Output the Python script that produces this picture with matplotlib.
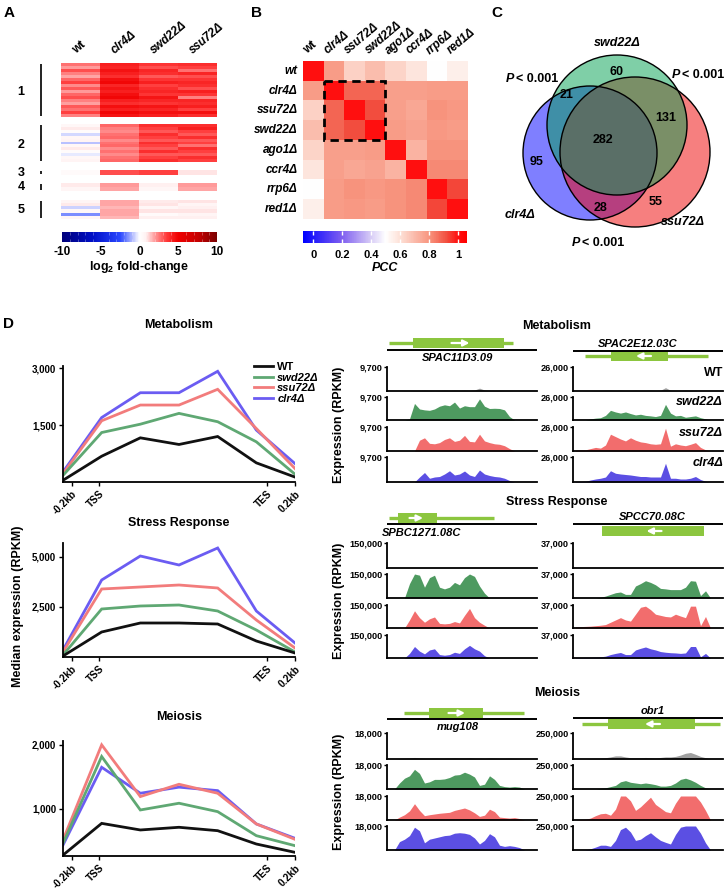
import numpy as np
import matplotlib
matplotlib.use("Agg")
import matplotlib.pyplot as plt
from matplotlib.colors import LinearSegmentedColormap, Normalize
from matplotlib.patches import Rectangle, Circle
from matplotlib.lines import Line2D
import matplotlib.cm as cm

plt.rcParams["font.family"] = ["Liberation Sans", "DejaVu Sans"]
plt.rcParams["font.weight"] = "bold"
plt.rcParams["mathtext.fontset"] = "custom"
plt.rcParams["mathtext.rm"] = "Liberation Sans:bold"
plt.rcParams["mathtext.it"] = "Liberation Sans:bold:italic"
plt.rcParams["mathtext.bf"] = "Liberation Sans:bold"

# ---------------- A : log2 fold-change clusters ----------------
a_cols = ["wt", "clr4Δ", "swd22Δ", "ssu72Δ"]
a_cluster_names = ["1", "2", "3", "4", "5"]
a_c1 = [[2.6, 4.2, 3.6, 3.8], [2.0, 4.0, 3.2, 3.4], [3.2, 4.5, 4.0, 2.6],
        [2.4, 4.2, 3.8, 4.0], [1.8, 3.8, 3.0, 3.2], [2.8, 4.6, 3.6, 3.6],
        [3.4, 4.8, 4.2, 4.0], [2.2, 4.0, 3.4, 3.8], [3.0, 4.4, 3.8, 3.2],
        [2.0, 4.2, 4.0, 4.2], [2.8, 4.6, 3.6, 3.6], [3.2, 4.8, 4.4, 2.4],
        [2.4, 4.2, 4.0, 4.0], [1.9, 3.8, 3.6, 3.8], [3.0, 4.6, 4.4, 4.2],
        [2.6, 4.2, 4.0, 3.4], [3.4, 4.8, 4.6, 4.6], [2.4, 4.4, 4.2, 3.8]]
a_c2 = [[0.4, 2.8, 3.8, 3.8], [0.9, 2.4, 3.4, 4.2], [0.2, 2.2, 3.0, 3.4],
        [-0.5, 2.6, 3.8, 3.0], [0.5, 2.8, 3.4, 3.8], [0.7, 2.2, 3.0, 3.0],
        [-0.8, 2.6, 3.8, 3.4], [0.4, 2.8, 3.4, 2.6], [0.9, 2.2, 3.0, 3.8],
        [0.2, 2.6, 3.8, 3.4], [-0.3, 2.2, 3.0, 3.0], [0.4, 2.6, 3.4, 3.8],
        [0.7, 2.8, 3.8, 3.4]]
a_c3 = [[0.3, 3.2, 3.4, 1.0]]
a_c4 = [[0.9, 2.0, 0.8, 2.0], [0.6, 1.8, 0.5, 1.8]]
a_c5 = [[0.6, 1.8, 0.9, 1.0], [0.9, 1.8, 1.0, 0.6], [-0.6, 1.6, 0.5, 0.8],
        [0.4, 1.8, 1.0, 1.0], [-1.5, 1.8, 0.3, 0.6], [0.6, 1.6, 0.8, 0.8]]
a_ticks = [-10, -5, 0, 5, 10]

# ---------------- B : PCC matrix ----------------
b_labels = ["wt", "clr4Δ", "ssu72Δ", "swd22Δ", "ago1Δ", "ccr4Δ", "rrp6Δ", "red1Δ"]
b_pcc = [[1.00, 0.78, 0.64, 0.69, 0.63, 0.58, 0.50, 0.55],
         [0.78, 1.00, 0.88, 0.88, 0.77, 0.77, 0.78, 0.78],
         [0.64, 0.88, 1.00, 0.92, 0.77, 0.75, 0.80, 0.79],
         [0.69, 0.88, 0.92, 1.00, 0.78, 0.76, 0.79, 0.78],
         [0.63, 0.77, 0.77, 0.78, 1.00, 0.72, 0.80, 0.80],
         [0.58, 0.77, 0.75, 0.76, 0.72, 1.00, 0.82, 0.82],
         [0.50, 0.78, 0.80, 0.79, 0.80, 0.82, 1.00, 0.93],
         [0.55, 0.78, 0.79, 0.78, 0.80, 0.82, 0.93, 1.00]]
b_ticks = [0, 0.2, 0.4, 0.6, 0.8, 1.0]
b_ticklabels = ["0", "0.2", "0.4", "0.6", "0.8", "1"]

# ---------------- C : Venn ----------------
venn_names = ["clr4Δ", "swd22Δ", "ssu72Δ"]
venn_counts = [95, 60, 55, 21, 28, 131, 282]   # clr4, swd22, ssu72, c&w, c&s, w&s, all

# ---------------- D : metagene profiles ----------------
d_groups = ["Metabolism", "Stress Response", "Meiosis"]
d_strains = ["WT", "swd22Δ", "ssu72Δ", "clr4Δ"]
d_xlabels = ["-0.2kb", "TSS", "TES", "0.2kb"]
met_wt = [45, 680, 1165, 990, 1200, 505, 130]
met_swd22 = [175, 1305, 1525, 1810, 1590, 1060, 205]
met_ssu72 = [220, 1615, 2030, 2030, 2445, 1410, 355]
met_clr4 = [265, 1700, 2355, 2355, 2920, 1370, 485]
str_wt = [50, 1250, 1700, 1700, 1650, 800, 200]
str_swd22 = [100, 2400, 2550, 2600, 2300, 1350, 250]
str_ssu72 = [250, 3400, 3500, 3600, 3450, 1850, 450]
str_clr4 = [350, 3850, 5050, 4600, 5450, 2300, 700]
mei_wt = [280, 775, 672, 714, 661, 453, 323]
mei_swd22 = [464, 1818, 984, 1089, 958, 583, 427]
mei_ssu72 = [516, 2000, 1193, 1385, 1245, 766, 526]
mei_clr4 = [437, 1650, 1245, 1340, 1286, 766, 542]

# ---------------- D : browser tracks (percent of track maximum, 30 bins) ----------------
track_max = [[9700, 26000], [150000, 37000], [18000, 250000]]
genes = [["SPAC11D3.09", "SPAC2E12.03C"], ["SPBC1271.08C", "SPCC70.08C"], ["mug108", "obr1"]]
# thin span, box span, arrow (tail, head), name x
gene_thin = [[(0.01, 0.84), (0.08, 0.90)], [(0.01, 0.71), None], [(0.11, 0.91), (0.06, 0.98)]]
gene_box = [[(0.17, 0.78), (0.25, 0.63)], [(0.07, 0.33), (0.19, 0.87)], [(0.28, 0.64), (0.23, 0.81)]]
gene_arrow = [[(0.43, 0.55), (0.52, 0.42)], [(0.15, 0.24), (0.59, 0.49)], [(0.41, 0.52), (0.58, 0.48)]]
gene_name_x = [[0.47, 0.43], [0.23, 0.53], [0.47, 0.53]]

spac11_wt = [0, 0, 0, 1, 1, 2, 2, 3, 2, 1, 2, 3, 2, 3, 2, 3, 2, 4, 12, 4, 2, 2, 2, 1, 1, 0, 0, 0, 0, 0]
spac11_swd22 = [0, 0, 0, 0, 5, 72, 48, 44, 42, 48, 60, 66, 62, 78, 52, 62, 58, 58, 92, 60, 50, 51, 50, 44, 15, 0, 0, 0, 0, 0]
spac11_ssu72 = [0, 0, 0, 0, 0, 0, 45, 55, 32, 30, 35, 48, 55, 40, 45, 65, 40, 38, 70, 42, 35, 30, 28, 22, 10, 0, 0, 0, 0, 0]
spac11_clr4 = [0, 0, 0, 0, 0, 0, 20, 38, 15, 20, 22, 32, 45, 28, 32, 44, 28, 22, 48, 32, 26, 22, 20, 15, 6, 0, 0, 0, 0, 0]
spac2e_wt = [0, 0, 1, 1, 2, 2, 3, 3, 2, 3, 2, 2, 3, 2, 2, 3, 2, 3, 14, 3, 2, 2, 3, 2, 1, 0, 0, 0, 0, 0]
spac2e_swd22 = [0, 0, 0, 5, 8, 10, 20, 42, 35, 30, 35, 28, 22, 25, 20, 18, 15, 20, 68, 30, 18, 20, 12, 15, 18, 10, 5, 0, 0, 0]
spac2e_ssu72 = [3, 5, 5, 10, 15, 12, 25, 70, 60, 50, 42, 55, 45, 38, 35, 30, 28, 30, 95, 20, 30, 25, 22, 28, 35, 15, 5, 0, 0, 0]
spac2e_clr4 = [2, 2, 3, 8, 12, 15, 20, 45, 35, 32, 30, 28, 25, 22, 22, 20, 20, 20, 75, 15, 15, 12, 12, 15, 22, 10, 3, 0, 0, 0]
spbc_wt = [0] * 30
spbc_swd22 = [0, 0, 0, 0, 60, 100, 95, 45, 85, 95, 45, 38, 45, 65, 55, 85, 100, 90, 50, 20, 0, 0, 0, 0, 0, 0, 0, 0, 0, 0]
spbc_ssu72 = [0, 0, 0, 0, 35, 75, 45, 25, 40, 48, 20, 18, 20, 28, 22, 55, 85, 45, 25, 12, 0, 0, 0, 0, 0, 0, 0, 0, 0, 0]
spbc_clr4 = [0, 0, 0, 0, 20, 50, 30, 18, 35, 40, 15, 12, 15, 25, 20, 40, 55, 40, 30, 10, 0, 0, 0, 0, 0, 0, 0, 0, 0, 0]
spcc_wt = [0] * 30
spcc_swd22 = [0, 0, 0, 0, 0, 3, 8, 15, 22, 25, 15, 15, 50, 60, 72, 65, 55, 40, 38, 35, 35, 35, 45, 72, 70, 10, 30, 0, 0, 0]
spcc_ssu72 = [5, 6, 7, 8, 10, 12, 15, 25, 35, 45, 35, 30, 60, 90, 95, 80, 60, 55, 50, 48, 60, 52, 45, 95, 95, 10, 50, 0, 0, 0]
spcc_clr4 = [2, 2, 3, 3, 4, 5, 8, 15, 20, 24, 15, 15, 35, 42, 48, 40, 35, 28, 25, 23, 22, 20, 22, 50, 50, 5, 20, 0, 0, 0]
mug_wt = [0, 0, 2, 3, 4, 6, 4, 3, 3, 4, 3, 3, 4, 5, 4, 4, 5, 3, 3, 2, 4, 3, 2, 2, 3, 2, 1, 0, 0, 0]
mug_swd22 = [0, 0, 25, 45, 55, 82, 65, 25, 30, 40, 40, 42, 48, 58, 60, 70, 62, 50, 15, 20, 55, 40, 15, 10, 8, 10, 8, 0, 0, 0]
mug_ssu72 = [0, 0, 12, 22, 38, 68, 40, 18, 22, 25, 28, 30, 32, 40, 45, 50, 42, 30, 15, 20, 45, 35, 12, 10, 8, 10, 6, 0, 0, 0]
mug_clr4 = [0, 0, 35, 45, 60, 95, 80, 30, 45, 50, 55, 60, 62, 70, 72, 70, 65, 50, 25, 40, 68, 55, 20, 15, 18, 15, 10, 0, 0, 0]
obr1_wt = [0, 0, 0, 2, 3, 3, 5, 8, 12, 12, 8, 5, 5, 5, 6, 5, 4, 6, 8, 8, 10, 15, 22, 25, 18, 10, 5, 0, 0, 0]
obr1_swd22 = [0, 0, 0, 0, 0, 3, 5, 10, 15, 30, 35, 28, 25, 22, 25, 22, 18, 12, 12, 15, 25, 40, 45, 38, 28, 15, 5, 0, 0, 0]
obr1_ssu72 = [0, 2, 3, 8, 18, 26, 28, 20, 45, 100, 100, 80, 40, 55, 75, 95, 65, 50, 35, 30, 70, 100, 100, 100, 100, 75, 40, 0, 0, 0]
obr1_clr4 = [0, 0, 1, 5, 12, 20, 20, 15, 40, 85, 95, 75, 40, 45, 60, 72, 55, 40, 32, 25, 65, 95, 100, 100, 100, 70, 30, 0, 0, 0]

tracks = [[[spac11_wt, spac11_swd22, spac11_ssu72, spac11_clr4],
           [spac2e_wt, spac2e_swd22, spac2e_ssu72, spac2e_clr4]],
          [[spbc_wt, spbc_swd22, spbc_ssu72, spbc_clr4],
           [spcc_wt, spcc_swd22, spcc_ssu72, spcc_clr4]],
          [[mug_wt, mug_swd22, mug_ssu72, mug_clr4],
           [obr1_wt, obr1_swd22, obr1_ssu72, obr1_clr4]]]

line_colors = ["#111111", "#5fa873", "#f27c7c", "#6b5cf2"]
fill_colors = ["#a0a0a0", "#4e9a60", "#f26d6d", "#5b4fe3"]
GENE_GREEN = "#8cc63f"

W, H = 728, 893
fig = plt.figure(figsize=(W / 100, H / 100), dpi=100)


def px_axes(x0, y0, x1, y1, **kw):
    return fig.add_axes([x0 / W, 1 - y1 / H, (x1 - x0) / W, (y1 - y0) / H], **kw)


ov = px_axes(0, 0, W, H, zorder=5)
ov.set_xlim(0, W)
ov.set_ylim(H, 0)
ov.axis("off")

for lab, (x, y) in zip("ABCD", [(9, 13), (257, 13), (497, 13), (9, 324)]):
    ov.text(x, y, lab, fontsize=11, ha="center", va="center")

# ---------------- A ----------------
cmap_a = LinearSegmentedColormap.from_list("a", [
    (0.0, "#00007a"), (0.2, "#0010c8"), (0.375, "#2a48ff"), (0.45, "#aab4ff"),
    (0.5, "#ffffff"), (0.54, "#fff2f2"), (0.6, "#ff9a9a"), (0.675, "#ff3a3a"),
    (0.75, "#f00000"), (0.875, "#c80000"), (1.0, "#7a0000")])
a_norm = Normalize(-10, 10)
a_extent = [(63, 117), (124, 162), (170, 175), (183, 191), (200, 219)]
for rows, name, (y0, y1) in zip([a_c1, a_c2, a_c3, a_c4, a_c5], a_cluster_names, a_extent):
    ax = px_axes(61, y0, 217, y1)
    ax.imshow(np.array(rows), cmap=cmap_a, norm=a_norm, aspect="auto", interpolation="nearest")
    ax.axis("off")
    ov.plot([41, 41], [y0 + 1, y1 - 1], color="#222222", lw=1.4, solid_capstyle="butt")
ov.text(21, 92, "1", fontsize=9, ha="center", va="center")
ov.text(21, 145, "2", fontsize=9, ha="center", va="center")
ov.text(21, 173, "3", fontsize=9, ha="center", va="center")
ov.text(21, 187, "4", fontsize=9, ha="center", va="center")
ov.text(21, 210, "5", fontsize=9, ha="center", va="center")
for i, lab in enumerate(a_cols):
    ov.text(61 + 39 * i + 16.5, 56, lab, rotation=40, rotation_mode="anchor",
            ha="left", va="bottom", fontsize=8.5,
            style="normal" if lab == "wt" else "italic")

cax = px_axes(62, 232, 217, 242)
cb = fig.colorbar(cm.ScalarMappable(norm=a_norm, cmap=cmap_a), cax=cax, orientation="horizontal")
cb.outline.set_visible(False)
cb.set_ticks(a_ticks)
cb.set_ticklabels([str(t) for t in a_ticks])
cax.tick_params(length=0, pad=3, labelsize=8.5)
cax.set_xticks(np.arange(-9, 10), minor=True)
cax.tick_params(which="minor", direction="in", length=2, color=(1, 1, 1, 0.35), top=True)
ov.text(139, 267, r"log$_2$ fold-change", fontsize=9, ha="center", va="center")

# ---------------- B ----------------
cmap_b = LinearSegmentedColormap.from_list("b", [
    (0.0, "#0000ff"), (0.239, "#8060f0"), (0.416, "#d8cdf6"), (0.504, "#ffffff"),
    (0.593, "#fde0d6"), (0.77, "#f8957f"), (0.876, "#f25040"), (0.947, "#ff1010"),
    (1.0, "#ff0000")])
b_norm = Normalize(-0.07, 1.06)
axb = px_axes(303, 61, 467, 219)
axb.imshow(np.array(b_pcc), cmap=cmap_b, norm=b_norm, aspect="auto", interpolation="nearest")
axb.set_xticks([])
axb.set_yticks([])
for s in axb.spines.values():
    s.set_visible(False)
for i, lab in enumerate(b_labels):
    axb.text(-0.75, i, lab, ha="right", va="center", fontsize=8.5, style="italic")
    axb.text(i - 0.2, -0.72, lab, rotation=40, rotation_mode="anchor", ha="left",
             va="bottom", fontsize=8.5, style="normal" if lab == "wt" else "italic")
axb.add_patch(Rectangle((0.5, 0.5), 3, 3, fill=False, ec="black", lw=2,
                        ls=(0, (3, 2)), clip_on=False))

cbx = px_axes(303, 231, 467, 243)
cb2 = fig.colorbar(cm.ScalarMappable(norm=b_norm, cmap=cmap_b), cax=cbx, orientation="horizontal")
cb2.outline.set_visible(False)
cb2.set_ticks(b_ticks)
cb2.set_ticklabels(b_ticklabels)
cbx.tick_params(direction="in", length=3, width=1, color="white", top=True, pad=5, labelsize=8)
ov.text(385, 268, "PCC", fontsize=9, style="italic", ha="center", va="center")

# ---------------- C ----------------
venn_colors = ["#0000ff", "#00a050", "#ee0000"]
venn_centers = [(590, 153), (617, 125), (635, 152)]
venn_radius = [67, 70, 75]
for k in [0, 2, 1]:
    ov.add_patch(Circle(venn_centers[k], venn_radius[k], fc=venn_colors[k], alpha=0.5, ec="none"))
for k in range(3):
    ov.add_patch(Circle(venn_centers[k], venn_radius[k], fill=False, ec="black", lw=1))
venn_pos = [(537, 162), (617, 72), (656, 202), (567, 95), (600, 208), (666, 118), (603, 140)]
for n, (x, y) in zip(venn_counts, venn_pos):
    ov.text(x, y, str(n), fontsize=9, ha="center", va="center")
ov.text(520, 215, venn_names[0], fontsize=9, style="italic", ha="center", va="center")
ov.text(617, 43, venn_names[1], fontsize=9, style="italic", ha="center", va="center")
ov.text(683, 222, venn_names[2], fontsize=9, style="italic", ha="center", va="center")
for (px, py) in [(514, 79), (680, 75), (580, 243)]:
    ov.text(px, py, "P", fontsize=9, style="italic", ha="right", va="center")
    ov.text(px + 2.5, py, "< 0.001", fontsize=9, ha="left", va="center")

# ---------------- D left : profiles ----------------
profiles = [[met_wt, met_swd22, met_ssu72, met_clr4],
            [str_wt, str_swd22, str_ssu72, str_clr4],
            [mei_wt, mei_swd22, mei_ssu72, mei_clr4]]
prof_box = [(366, 482), (543, 657), (741, 856)]
prof_ylim = [(0, 3060), (0, 5700), (266, 2060)]
prof_ticks = [[1500, 3000], [2500, 5000], [1000, 2000]]
prof_title_y = [325, 523, 717]
x = np.arange(7)
for g in range(3):
    ax = px_axes(63, prof_box[g][0], 295, prof_box[g][1])
    for k in [3, 2, 1, 0]:
        ax.plot(x, profiles[g][k], color=line_colors[k], lw=2, solid_joinstyle="miter")
    ax.set_xlim(0, 6)
    ax.set_ylim(*prof_ylim[g])
    ax.set_yticks(prof_ticks[g])
    ax.set_yticklabels([f"{t:,}" for t in prof_ticks[g]], fontsize=7)
    ax.set_xticks([0.22, 0.93, 5.28, 6.0])
    ax.set_xticklabels(d_xlabels, rotation=45, ha="right", rotation_mode="anchor", fontsize=7.2)
    ax.spines[["top", "right"]].set_visible(False)
    ax.spines[["left", "bottom"]].set_linewidth(1.3)
    ax.tick_params(length=3, width=1, pad=2)
    ax.set_facecolor("none")
    ov.text(179, prof_title_y[g], d_groups[g], fontsize=9, ha="center", va="center")
    if g == 0:
        handles = [Line2D([], [], color=c, lw=2) for c in line_colors]
        leg = ax.legend(handles, d_strains, loc="upper left", bbox_to_anchor=(254 / W, 1 - 362 / H),
                        bbox_transform=fig.transFigure, frameon=False, fontsize=8,
                        handlelength=1.7, handletextpad=0.4, labelspacing=0.05,
                        borderpad=0, borderaxespad=0)
        for t in leg.get_texts()[1:]:
            t.set_style("italic")
ov.text(18, 606, "Median expression (RPKM)", fontsize=9, rotation=90, ha="center", va="center")

# ---------------- D right : browser tracks ----------------
col_x = [(387, 537), (573, 723)]
track_rows = [[(367, 391), (397, 420), (427, 451), (457, 482)],
              [(543, 568), (574, 598), (605, 628), (635, 658)],
              [(733, 759), (765, 789), (796, 820), (826, 850)]]
title_y = [326, 502, 693]
gene_region = [(330, 366), (507, 541), (699, 732)]
# y of (green, black line, name) per column
gene_y = [[(343, 350, 358), (356, 351, 344)],
          [(518, 524, 533), (531, 524, 517)],
          [(713, 719, 727), (724, 718, 711)]]
bx = (np.arange(30) + 0.5) / 30
for g in range(3):
    ov.text(557, title_y[g], d_groups[g], fontsize=9, ha="center", va="center")
    tr0, tr1 = track_rows[g][0][0], track_rows[g][-1][1]
    ov.text(339, (tr0 + tr1) / 2, "Expression (RPKM)", fontsize=9, rotation=90,
            ha="center", va="center")
    for c in range(2):
        x0, x1 = col_x[c]
        gax = px_axes(x0, gene_region[g][0], x1, gene_region[g][1])
        gax.set_xlim(0, 1)
        gax.set_ylim(gene_region[g][1], gene_region[g][0])
        gax.axis("off")
        yg, yl, yn = gene_y[g][c]
        gax.plot([0, 1], [yl, yl], color="black", lw=1.4, solid_capstyle="butt")
        if gene_thin[g][c] is not None:
            gax.plot(gene_thin[g][c], [yg, yg], color=GENE_GREEN, lw=2.4, solid_capstyle="butt")
        b0, b1 = gene_box[g][c]
        gax.add_patch(Rectangle((b0, yg - 5), b1 - b0, 10, color=GENE_GREEN, lw=0))
        a0, a1 = gene_arrow[g][c]
        gax.annotate("", xy=(a1, yg), xytext=(a0, yg),
                     arrowprops=dict(arrowstyle="-|>", color="white", lw=1.6,
                                     mutation_scale=9, shrinkA=0, shrinkB=0))
        gax.text(gene_name_x[g][c], yn, genes[g][c], fontsize=8, style="italic",
                 ha="center", va="center", clip_on=False)
        ymax = track_max[g][c]
        for k in range(4):
            t0, t1 = track_rows[g][k]
            tax = px_axes(x0, t0, x1, t1)
            vals = np.array(tracks[g][c][k]) / 100 * ymax
            tax.fill_between(bx, 0, vals, color=fill_colors[k], lw=0)
            tax.set_xlim(0, 1)
            tax.set_ylim(0, ymax)
            tax.set_xticks([])
            tax.set_yticks([ymax])
            tax.set_yticklabels([f"{ymax:,}"], fontsize=6.6)
            tax.tick_params(axis="y", length=2.5, width=1, pad=0.5)
            tax.spines[["top", "right"]].set_visible(False)
            tax.spines[["left", "bottom"]].set_linewidth(1.3)
            tax.set_facecolor("none")

strain_y = [373, 402, 433, 463]
for k in range(4):
    ov.text(723, strain_y[k], d_strains[k], fontsize=9, ha="right", va="center",
            style="normal" if k == 0 else "italic")

fig.savefig("out.png", dpi=100)
